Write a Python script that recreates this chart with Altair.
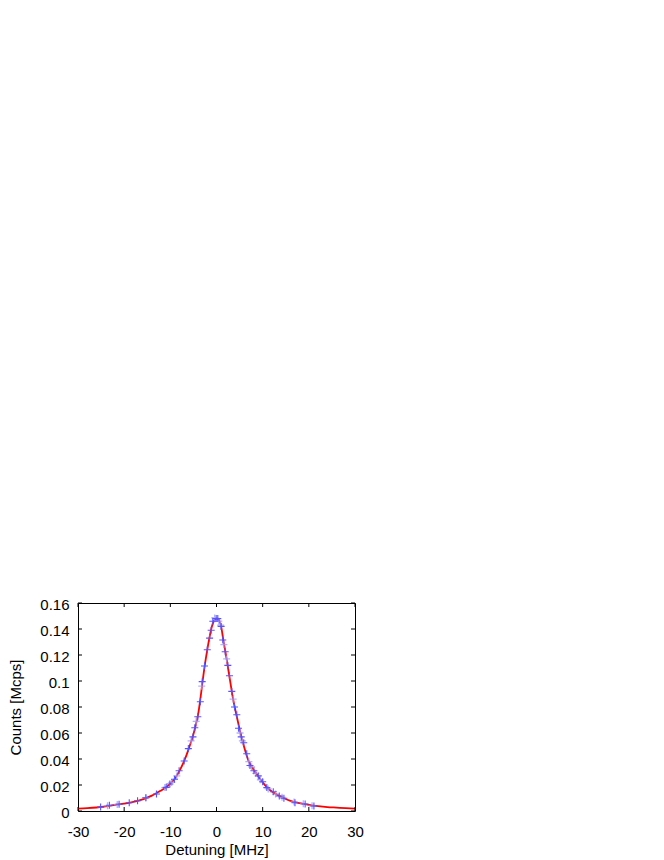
import altair as alt
import pandas as pd

# Blue "+" data points (darker series)
dark_x = [-25.1, -23.2, -21.1, -18.9, -17.1, -15.3, -13.0, -10.9, -10.1, -9.1, -8.1, -7.0,
          -6.1, -5.1, -4.7, -4.05, -3.5, -3.1, -2.6, -2.0, -1.5, -1.15, -0.8, -0.07,
          0.28, 1.0, 1.36, 1.88, 2.45, 2.81, 3.31, 3.9, 4.4, 4.77, 5.35, 5.9, 6.55,
          7.25, 8.1, 9.05, 10.0, 10.9, 12.3, 13.6, 14.6, 17.0, 19.2, 21.1]
dark_y = [0.003, 0.0044, 0.0052, 0.0064, 0.0079, 0.0102, 0.0131, 0.0182, 0.0208, 0.0244, 0.031, 0.0385,
          0.048, 0.057, 0.064, 0.0725, 0.084, 0.0995, 0.1115, 0.124, 0.133, 0.139, 0.146, 0.148,
          0.148, 0.142, 0.1315, 0.1225, 0.112, 0.104, 0.092, 0.080, 0.074, 0.0636, 0.057, 0.0525, 0.044,
          0.035, 0.031, 0.027, 0.0225, 0.018, 0.0148, 0.0115, 0.0098, 0.0064, 0.0054, 0.0038]

# Lighter "+" data points (second, paler series)
light_x = [-23.6, -21.5, -15.3, -11.2, -9.7, -8.6, -5.5, -4.4, -3.2, -0.4, 0.5, 0.9, 1.6, 2.2,
           3.6, 5.1, 5.6, 7.0, 7.6, 8.5, 9.5, 11.2, 12.8, 14.2, 16.8, 18.8, 20.7]
light_y = [0.004, 0.005, 0.0102, 0.018, 0.022, 0.027, 0.054, 0.069, 0.096, 0.1485, 0.146, 0.143, 0.128, 0.117,
           0.086, 0.060, 0.054, 0.038, 0.034, 0.029, 0.024, 0.017, 0.013, 0.0105, 0.007, 0.0055, 0.004]

# Red fitted curve
fit_x = [-30, -28, -26, -24, -22, -20, -18, -16, -14, -12, -11, -10, -9, -8, -7, -6, -5, -4.5, -4,
         -3.5, -3, -2.5, -2, -1.5, -1, -0.5, 0, 0.5, 1, 1.5, 2, 2.5, 3, 3.5, 4, 4.5, 5, 6, 7, 8,
         9, 10, 11, 12, 14, 16, 18, 20, 22, 24, 26, 28, 30]
fit_y = [0.0019, 0.0022, 0.0027, 0.0035, 0.0047, 0.0057, 0.0071, 0.009, 0.0118, 0.0158, 0.018, 0.021,
         0.025, 0.031, 0.0385, 0.048, 0.059, 0.066, 0.074, 0.086, 0.100, 0.113, 0.124, 0.134, 0.142,
         0.1465, 0.148, 0.147, 0.142, 0.131, 0.121, 0.110, 0.099, 0.088, 0.079, 0.071, 0.063, 0.049,
         0.038, 0.032, 0.027, 0.022, 0.018, 0.015, 0.011, 0.0078, 0.006, 0.0047, 0.0037, 0.003,
         0.0026, 0.0022, 0.0019]

x_ticks = [-30, -20, -10, 0, 10, 20, 30]
y_ticks = [0, 0.02, 0.04, 0.06, 0.08, 0.1, 0.12, 0.14, 0.16]

W, H = 277, 208
FONT = "Liberation Sans"

dark = pd.DataFrame({"x": dark_x, "y": dark_y})
light = pd.DataFrame({"x": light_x, "y": light_y})
fit = pd.DataFrame({"x": fit_x, "y": fit_y})
xt = pd.DataFrame({"x": x_ticks})
yt = pd.DataFrame({"y": y_ticks})

xscale = alt.Scale(domain=[-30, 30], nice=False, zero=False)
yscale = alt.Scale(domain=[0, 0.16], nice=False)

xaxis = alt.Axis(values=x_ticks, labelExpr="toString(datum.value)", tickSize=0, domain=False, grid=False,
                 labelFlush=False, labelOverlap=False,
                 labelFont=FONT, labelFontSize=15, labelColor="black", labelPadding=13,
                 title="Detuning [MHz]", titleFont=FONT, titleFontSize=15, titleFontWeight="normal",
                 titleColor="black", titleBaseline="alphabetic", titleY=43)
yaxis = alt.Axis(values=y_ticks, format="~g", tickSize=0, domain=False, grid=False,
                 labelFlush=False, labelOverlap=False,
                 labelFont=FONT, labelFontSize=15, labelColor="black", labelPadding=9, labelOffset=1.5,
                 title="Counts [Mcps]", titleFont=FONT, titleFontSize=15, titleFontWeight="normal",
                 titleColor="black", titleBaseline="alphabetic", titleX=-58, titleY=H / 2)

plus = "M-1,0L1,0M0,-1L0,1"


def X0():
    return alt.X("x:Q", scale=xscale, axis=xaxis)


def Y0():
    return alt.Y("y:Q", scale=yscale, axis=yaxis)


line = alt.Chart(fit).mark_line(color="#ff0000", strokeWidth=1.8, interpolate="monotone").encode(
    x=X0(), y=Y0())
light_pts = alt.Chart(light).mark_point(shape=plus, size=49, filled=False, strokeWidth=1.3,
                                        color="#a0a0ff", opacity=0.8).encode(x=X0(), y=Y0())
dark_pts = alt.Chart(dark).mark_point(shape=plus, size=49, filled=False, strokeWidth=1.1,
                                      color="#5555ff", opacity=1).encode(x=X0(), y=Y0())

tb = alt.Chart(xt).mark_rule(color="black", strokeWidth=1).encode(
    x=X0(), y=alt.value(H), y2=alt.value(H - 4))
tt = alt.Chart(xt).mark_rule(color="black", strokeWidth=1).encode(
    x=X0(), y=alt.value(0), y2=alt.value(4))
tl = alt.Chart(yt).mark_rule(color="black", strokeWidth=1).encode(
    y=Y0(), x=alt.value(0), x2=alt.value(4))
tr = alt.Chart(yt).mark_rule(color="black", strokeWidth=1).encode(
    y=Y0(), x=alt.value(W), x2=alt.value(W - 4))

chart = alt.layer(line, tb, tt, tl, tr, light_pts, dark_pts).properties(
    width=W, height=H,
    autosize=alt.AutoSizeParams(type="none"),
    padding={"left": 70, "top": 595, "right": 20, "bottom": 48},
).configure(background="white", view=alt.ViewConfig(stroke="black", strokeWidth=1))

chart.save("out.html", embed_options={"renderer": "svg", "actions": False})
